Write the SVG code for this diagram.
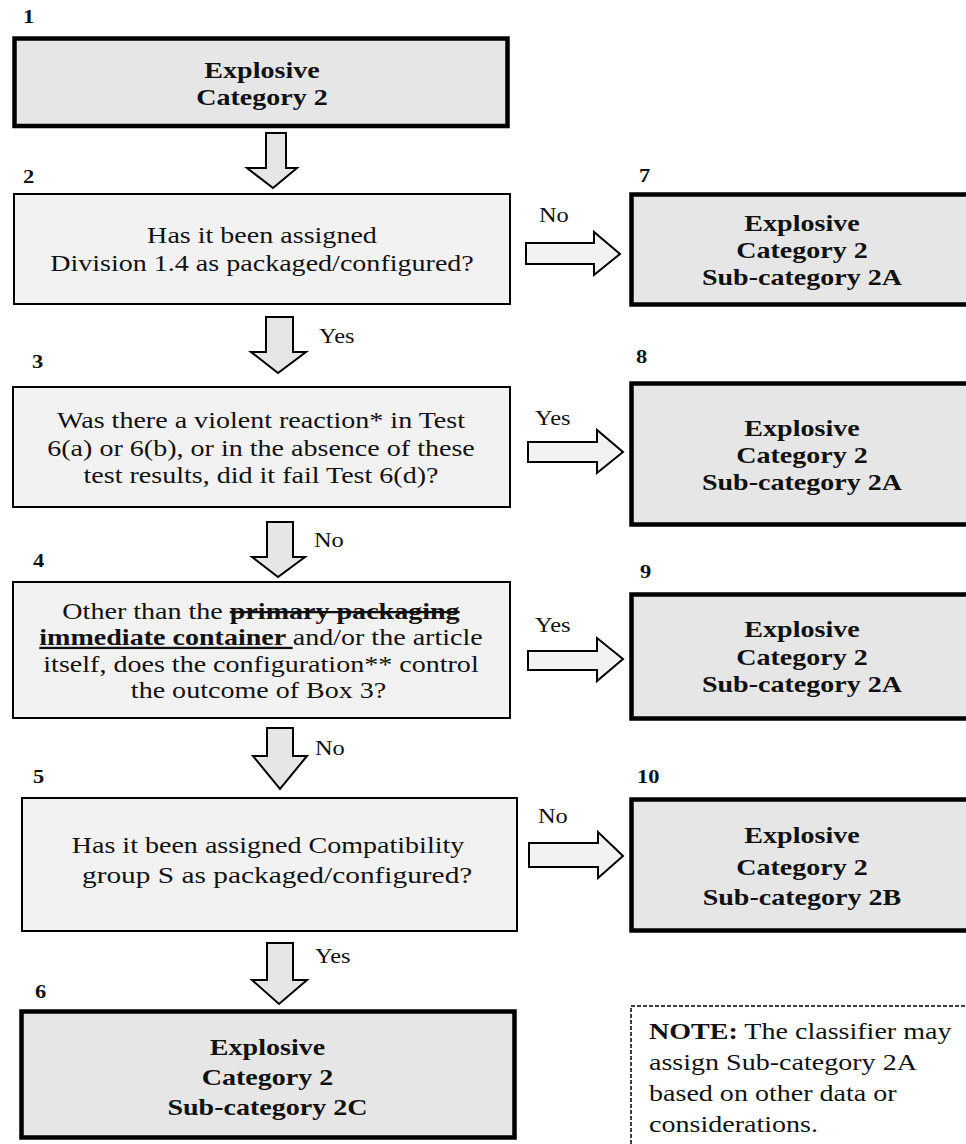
<svg xmlns="http://www.w3.org/2000/svg" width="966" height="1144" viewBox="0 0 966 1144">
<style>
.q{fill:#f2f2f2;stroke:#000;stroke-width:2}
.r{fill:#e6e6e6;stroke:#000;stroke-width:4.5}
.ad{fill:#e6e6e6;stroke:#000;stroke-width:2;stroke-linejoin:miter}
.ar{fill:#f2f2f2;stroke:#000;stroke-width:2;stroke-linejoin:miter}
text{font-family:"Liberation Serif","Times New Roman",serif;fill:#111}
.t{font-size:23px;text-anchor:middle}
.tb{font-size:23px;text-anchor:middle;font-weight:bold}
.lbl{font-size:20px}
.num{font-size:18px;font-weight:bold}
.note{font-size:23px}
</style>
<rect width="966" height="1144" fill="#fff"/>

<g id="node1">
<rect class="r" x="14.5" y="38.5" width="493" height="87.5"/>
<text class="num" transform="translate(23 0) scale(1.25 1)" x="0" y="23">1</text>
<g transform="translate(262 0) scale(1.22 1)">
<text class="tb" x="0" y="78">Explosive</text>
<text class="tb" x="0" y="105">Category 2</text>
</g>
</g>

<g id="node2">
<rect class="q" x="14" y="194" width="496" height="110"/>
<text class="num" transform="translate(23 0) scale(1.25 1)" x="0" y="183">2</text>
<g transform="translate(262 0) scale(1.22 1)">
<text class="t" x="0" y="243">Has it been assigned</text>
<text class="t" x="0" y="271">Division 1.4 as packaged/configured?</text>
</g>
</g>

<g id="node3">
<rect class="q" x="13" y="387" width="497" height="120"/>
<text class="num" transform="translate(32 0) scale(1.25 1)" x="0" y="368">3</text>
<g transform="translate(261 0) scale(1.22 1)">
<text class="t" x="0" y="428">Was there a violent reaction* in Test</text>
<text class="t" x="0" y="456">6(a) or 6(b), or in the absence of these</text>
<text class="t" x="0" y="483">test results, did it fail Test 6(d)?</text>
</g>
</g>

<g id="node4">
<rect class="q" x="13" y="582" width="497" height="136"/>
<text class="num" transform="translate(33 0) scale(1.25 1)" x="0" y="567">4</text>
<g transform="translate(261 0) scale(1.22 1)">
<text class="t" x="0" y="619">Other than the <tspan font-weight="bold" text-decoration="line-through">primary packaging</tspan></text>
<text class="t" x="0" y="645"><tspan font-weight="bold" text-decoration="underline">immediate container </tspan>and/or the article</text>
<text class="t" x="0" y="672">itself, does the configuration** control</text>
<text class="t" x="-2" y="698">the outcome of Box 3?</text>
</g>
</g>

<g id="node5">
<rect class="q" x="22" y="798" width="495" height="133"/>
<text class="num" transform="translate(33 0) scale(1.25 1)" x="0" y="783">5</text>
<g transform="translate(268 0) scale(1.22 1)">
<text class="t" x="0" y="853">Has it been assigned Compatibility</text>
<text class="t" x="7.5" y="883" textLength="320" lengthAdjust="spacingAndGlyphs">group S as packaged/configured?</text>
</g>
</g>

<g id="node6">
<rect class="r" x="21.5" y="1011.5" width="493" height="126"/>
<text class="num" transform="translate(35 0) scale(1.25 1)" x="0" y="998">6</text>
<g transform="translate(267.5 0) scale(1.22 1)">
<text class="tb" x="0" y="1055">Explosive</text>
<text class="tb" x="0" y="1085">Category 2</text>
<text class="tb" x="0" y="1115">Sub-category 2C</text>
</g>
</g>

<g id="node7">
<rect class="r" x="631.5" y="194.5" width="345" height="110"/>
<text class="num" transform="translate(639 0) scale(1.25 1)" x="0" y="182">7</text>
<g transform="translate(802 0) scale(1.22 1)">
<text class="tb" x="0" y="231">Explosive</text>
<text class="tb" x="0" y="258">Category 2</text>
<text class="tb" x="0" y="285">Sub-category 2A</text>
</g>
</g>

<g id="node8">
<rect class="r" x="631.5" y="383.5" width="345" height="141"/>
<text class="num" transform="translate(636 0) scale(1.25 1)" x="0" y="363">8</text>
<g transform="translate(802 0) scale(1.22 1)">
<text class="tb" x="0" y="436">Explosive</text>
<text class="tb" x="0" y="463">Category 2</text>
<text class="tb" x="0" y="490">Sub-category 2A</text>
</g>
</g>

<g id="node9">
<rect class="r" x="631.5" y="594.5" width="345" height="124"/>
<text class="num" transform="translate(640 0) scale(1.25 1)" x="0" y="578">9</text>
<g transform="translate(802 0) scale(1.22 1)">
<text class="tb" x="0" y="637">Explosive</text>
<text class="tb" x="0" y="665">Category 2</text>
<text class="tb" x="0" y="692">Sub-category 2A</text>
</g>
</g>

<g id="node10">
<rect class="r" x="631.5" y="799.5" width="345" height="131"/>
<text class="num" transform="translate(637 0) scale(1.25 1)" x="0" y="783">10</text>
<g transform="translate(802 0) scale(1.22 1)">
<text class="tb" x="0" y="843">Explosive</text>
<text class="tb" x="0" y="875">Category 2</text>
<text class="tb" x="0" y="905">Sub-category 2B</text>
</g>
</g>

<g id="note">
<rect x="631" y="1006" width="400" height="200" fill="none" stroke="#000" stroke-width="1.5" stroke-dasharray="4 2"/>
<g transform="translate(649 0) scale(1.22 1)">
<text class="note" x="0" y="1039"><tspan font-weight="bold">NOTE:</tspan> The classifier may</text>
<text class="note" x="0" y="1070">assign Sub-category 2A</text>
<text class="note" x="0" y="1101">based on other data or</text>
<text class="note" x="0" y="1132">considerations.</text>
</g>
</g>

<g id="connectors">
<polygon class="ad" points="266,133 286,133 286,168 297,168 273,188 247,168 266,168"/>
<polygon class="ad" points="266,317 293,317 293,352 306,352 278,373 251,352 266,352"/>
<polygon class="ad" points="267,522 293,522 293,557 305,557 278,577 252,557 267,557"/>
<polygon class="ad" points="267,728 293,728 293,756 307,756 280,789 253,756 267,756"/>
<polygon class="ad" points="267,943 293,943 293,980 307,980 279,1004 252,980 267,980"/>
<polygon class="ar" points="526,243 594,243 594,232 620,254 594,275 594,264 526,264"/>
<polygon class="ar" points="528,442 597,442 597,430 623,452 597,473 597,462 528,462"/>
<polygon class="ar" points="528,651 597,651 597,638 623,659 597,681 597,670 528,670"/>
<polygon class="ar" points="529,843 598,843 598,832 623,856 598,878 598,867 529,867"/>
<text class="lbl" transform="translate(539 0) scale(1.22 1)" x="0" y="222">No</text>
<text class="lbl" transform="translate(319 0) scale(1.22 1)" x="0" y="343">Yes</text>
<text class="lbl" transform="translate(535 0) scale(1.22 1)" x="0" y="425">Yes</text>
<text class="lbl" transform="translate(314 0) scale(1.22 1)" x="0" y="547">No</text>
<text class="lbl" transform="translate(535 0) scale(1.22 1)" x="0" y="632">Yes</text>
<text class="lbl" transform="translate(315 0) scale(1.22 1)" x="0" y="755">No</text>
<text class="lbl" transform="translate(538 0) scale(1.22 1)" x="0" y="823">No</text>
<text class="lbl" transform="translate(315 0) scale(1.22 1)" x="0" y="963">Yes</text>
</g>
</svg>
